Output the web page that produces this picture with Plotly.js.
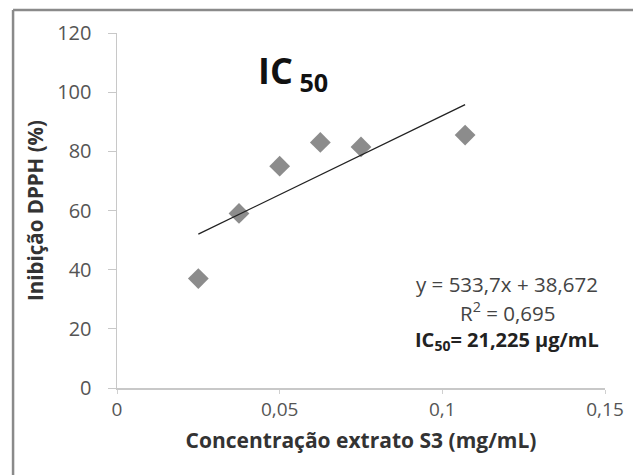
<!DOCTYPE html>
<html>
<head>
<meta charset="utf-8">
<script src="https://cdn.plot.ly/plotly-3.0.1.min.js"></script>
<style>html,body{margin:0;padding:0;background:#fff;}#chart{width:633px;height:475px;}</style>
</head>
<body>
<div id="chart"></div>
<script>
// Data
const concentracao = [0.025, 0.0375, 0.05, 0.0625, 0.075, 0.107];
const inibicao = [37, 59, 75, 83, 81.5, 85.5];
const slope = 533.7;
const intercept = 38.672;
const trendX = [0.025, 0.107];
const trendY = trendX.map(x => slope * x + intercept);
const xTicks = [0, 0.05, 0.1, 0.15];
const xTickText = ['0', '0,05', '0,1', '0,15'];
const yTicks = [0, 20, 40, 60, 80, 100, 120];

const font = '"Open Sans", Lato, "DejaVu Sans", sans-serif';

const traces = [
  {
    x: concentracao, y: inibicao, type: 'scatter', mode: 'markers',
    marker: {symbol: 'diamond', size: 16, color: '#8c8c8c', line: {width: 0}},
    hoverinfo: 'skip'
  },
  {
    x: trendX, y: trendY, type: 'scatter', mode: 'lines',
    line: {color: '#222222', width: 1.3}, hoverinfo: 'skip'
  }
];

const layout = {
  width: 633, height: 475,
  margin: {l: 117, r: 28, t: 33, b: 87},
  paper_bgcolor: '#ffffff', plot_bgcolor: '#ffffff',
  showlegend: false,
  font: {family: font, color: '#555555'},
  xaxis: {
    range: [0, 0.15], tickvals: xTicks, ticktext: xTickText,
    showgrid: false, zeroline: false, showline: true, linecolor: '#c8c8c8', linewidth: 1.5,
    ticks: 'outside', ticklen: 4, tickcolor: '#d0d0d0',
    tickfont: {size: 19, color: '#555555', family: font},
    title: {text: '<b>Concentração extrato S3 (mg/mL)</b>', standoff: 12,
            font: {size: 21, color: '#333333', family: font}}
  },
  yaxis: {
    range: [0, 120], tickvals: yTicks,
    showgrid: false, zeroline: false, showline: true, linecolor: '#c8c8c8', linewidth: 1.5,
    ticks: 'outside', ticklen: 8, tickcolor: '#c8c8c8',
    ticklabelstandoff: 12,
    tickfont: {size: 20, color: '#555555', family: font},
    title: {text: '<b>Inibição DPPH (%)</b>', standoff: 8,
            font: {size: 20.5, color: '#333333', family: font}}
  },
  annotations: [
    {xref: 'paper', yref: 'paper', x: 0.36, y: 0.89, xanchor: 'center', yanchor: 'middle',
     text: '<b>IC<sub> 50</sub></b>', showarrow: false,
     font: {size: 36, color: '#111111', family: font}},
    {xref: 'paper', yref: 'paper', x: 0.8, y: 0.292, xanchor: 'center', yanchor: 'middle',
     text: 'y = 533,7x + 38,672', showarrow: false,
     font: {size: 20.5, color: '#444444', family: font}},
    {xref: 'paper', yref: 'paper', x: 0.8, y: 0.213, xanchor: 'center', yanchor: 'middle',
     text: 'R<sup>2</sup> = 0,695', showarrow: false,
     font: {size: 20.5, color: '#444444', family: font}},
    {xref: 'paper', yref: 'paper', x: 0.8, y: 0.133, xanchor: 'center', yanchor: 'middle',
     text: '<b>IC<sub>50</sub>= 21,225 µg/mL</b>', showarrow: false,
     font: {size: 20, color: '#222222', family: font}}
  ],
  shapes: [
    {type: 'line', xref: 'paper', yref: 'paper', x0: -0.213, x1: -0.213, y0: -0.3, y1: 1.065,
     line: {color: '#8a8a8a', width: 2.5}},
    {type: 'line', xref: 'paper', yref: 'paper', x0: -0.213, x1: 1.1, y0: 1.065, y1: 1.065,
     line: {color: '#8a8a8a', width: 2.5}}
  ]
};

Plotly.newPlot('chart', traces, layout, {staticPlot: true, displayModeBar: false});
</script>
</body>
</html>
